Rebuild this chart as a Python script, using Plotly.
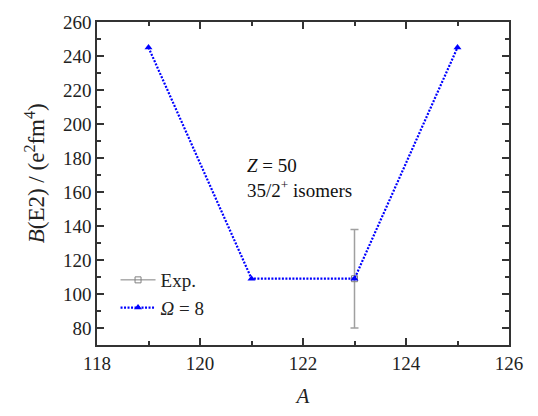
import plotly.graph_objects as go

A_exp = [123]
BE2_exp = [109]
err_plus = [29]
err_minus = [29]

A_th = [119, 121, 123, 125]
BE2_th = [245, 109, 109, 245]

SERIF = "Liberation Serif"

fig = go.Figure()
fig.add_trace(go.Scatter(
    x=A_exp, y=BE2_exp, name="Exp.", mode="lines+markers",
    line=dict(color="#808080", width=1),
    marker=dict(symbol="square-open", size=6, color="#808080"),
    error_y=dict(type="data", array=err_plus, arrayminus=err_minus,
                 color="#a0a0a0", thickness=1.5, width=4),
))
fig.add_trace(go.Scatter(
    x=A_th, y=BE2_th, name="<i>Ω</i> = 8", mode="lines+markers",
    line=dict(color="#0000ff", width=2.2, dash="2px,1.5px"),
    marker=dict(symbol="triangle-up", size=7, color="#0000ff"),
))

fig.add_annotation(
    x=120.87, y=168.4, xref="x", yref="y", showarrow=False,
    xanchor="left", yanchor="middle", align="left",
    text="<i>Z</i> = 50<br>35/2<sup>+</sup> isomers",
    font=dict(family=SERIF, size=19, color="#111"),
)

# y-axis title placed as rotated annotation to match reference position
fig.add_annotation(
    x=-0.1505, y=0.5315, xref="paper", yref="paper", showarrow=False,
    xanchor="center", yanchor="middle", textangle=-90,
    text="<i>B</i>(E2) / (e<sup>2</sup>fm<sup>4</sup>)",
    font=dict(family=SERIF, size=23, color="#222"),
)

axis_common = dict(
    showline=True, linecolor="#333", linewidth=1.5, mirror="allticks",
    ticks="inside", ticklen=7, tickcolor="#333", tickwidth=1.5,
    showgrid=False, zeroline=False,
    tickfont=dict(family=SERIF, size=19, color="#222"),
)

fig.update_layout(
    width=538, height=416,
    margin=dict(l=97, r=29, t=14, b=69),
    paper_bgcolor="white", plot_bgcolor="white",
    showlegend=True,
    legend=dict(x=0.045, y=0.26, xanchor="left", yanchor="top",
                bgcolor="rgba(0,0,0,0)",
                font=dict(family=SERIF, size=19, color="#222"),
                tracegroupgap=0, itemwidth=35),
    xaxis=dict(range=[118, 126], dtick=2, tick0=118,
               minor=dict(dtick=1, ticks="inside", ticklen=4, tickcolor="#333", tickwidth=1.5),
               title=dict(text="<i>A</i>", font=dict(family=SERIF, size=21, color="#222"), standoff=16),
               **axis_common),
    yaxis=dict(range=[70, 260], dtick=20, tick0=80,
               minor=dict(dtick=10, ticks="inside", ticklen=4, tickcolor="#333", tickwidth=1.5),
               **axis_common),
)

fig.write_html("out.html", config={"displayModeBar": False},
               post_script="document.body.style.margin='0';")
